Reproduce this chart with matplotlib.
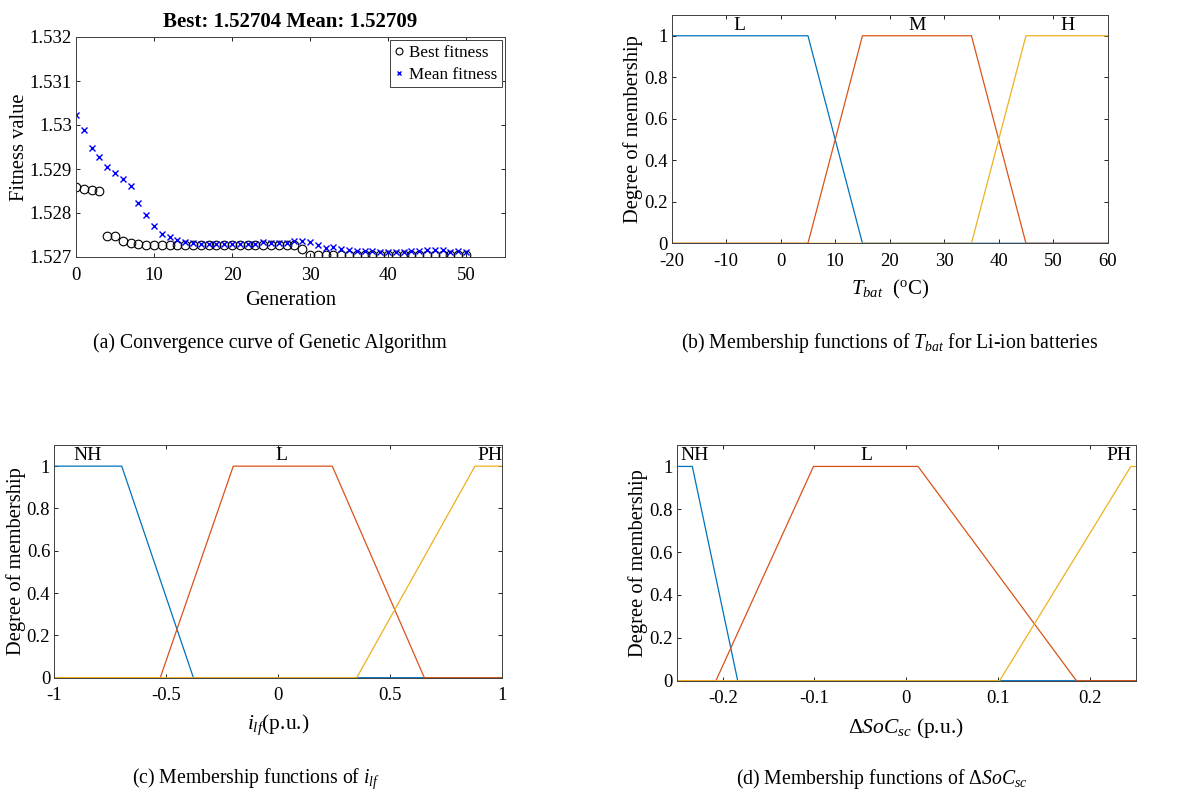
import matplotlib
matplotlib.use("Agg")
import matplotlib.pyplot as plt
import numpy as np

plt.rcParams['font.family'] = ['Liberation Serif', 'DejaVu Serif']
plt.rcParams['mathtext.fontset'] = 'custom'
plt.rcParams['mathtext.rm'] = 'Liberation Serif'
plt.rcParams['mathtext.it'] = 'Liberation Serif:italic'
plt.rcParams['mathtext.bf'] = 'Liberation Serif:bold'

# ---------------- Data ----------------
generation = list(range(0, 51))
best_fitness = [1.528583, 1.528545, 1.528515, 1.528508, 1.527485, 1.527485, 1.527371, 1.527311,
                1.527295, 1.527280, 1.527270, 1.527265, 1.527265, 1.527265, 1.527265, 1.527265,
                1.527265, 1.527265, 1.527265, 1.527265, 1.527265, 1.527265, 1.527265, 1.527265,
                1.527265, 1.527265, 1.527265, 1.527265, 1.527265, 1.527174, 1.527055, 1.527055,
                1.527055, 1.527055, 1.527055, 1.527055, 1.527055, 1.527055, 1.527055, 1.527055,
                1.527055, 1.527055, 1.527055, 1.527055, 1.527055, 1.527055, 1.527055, 1.527055,
                1.527055, 1.527055, 1.527045]
mean_fitness = [1.530235, 1.529879, 1.529477, 1.529280, 1.529038, 1.528902, 1.528780, 1.528621,
                1.528235, 1.527947, 1.527705, 1.527530, 1.527447, 1.527386, 1.527341, 1.527326,
                1.527300, 1.527295, 1.527295, 1.527295, 1.527295, 1.527295, 1.527300, 1.527300,
                1.527350, 1.527310, 1.527310, 1.527310, 1.527360, 1.527360, 1.527340, 1.527270,
                1.527210, 1.527230, 1.527180, 1.527160, 1.527140, 1.527140, 1.527140, 1.527110,
                1.527110, 1.527120, 1.527120, 1.527140, 1.527140, 1.527170, 1.527150, 1.527170,
                1.527110, 1.527125, 1.527110]

# Tbat membership functions (breakpoints)
tbat_L_x = [-20, 5, 15, 60];          tbat_L_y = [1, 1, 0, 0]
tbat_M_x = [-20, 5, 15, 35, 45, 60];  tbat_M_y = [0, 0, 1, 1, 0, 0]
tbat_H_x = [-20, 35, 45, 60];         tbat_H_y = [0, 0, 1, 1]
tbat_labels = ['L', 'M', 'H']
tbat_label_x = [-7.6, 25, 52.6]

# ilf membership functions
ilf_NH_x = [-1, -0.699, -0.379, 1];             ilf_NH_y = [1, 1, 0, 0]
ilf_L_x = [-1, -0.527, -0.201, 0.241, 0.652, 1]; ilf_L_y = [0, 0, 1, 1, 0, 0]
ilf_PH_x = [-1, 0.350, 0.878, 1];               ilf_PH_y = [0, 0, 1, 1]
ilf_labels = ['NH', 'L', 'PH']
ilf_label_x = [-0.85, 0.015, 0.945]

# dSoC_sc membership functions
soc_NH_x = [-0.25, -0.233, -0.1836, 0.25];                 soc_NH_y = [1, 1, 0, 0]
soc_L_x = [-0.25, -0.2073, -0.1011, 0.0127, 0.1851, 0.25]; soc_L_y = [0, 0, 1, 1, 0, 0]
soc_PH_x = [-0.25, 0.1015, 0.2444, 0.25];                  soc_PH_y = [0, 0, 1, 1]
soc_labels = ['NH', 'L', 'PH']
soc_label_x = [-0.230, -0.044, 0.2315]

C1, C2, C3 = '#0072BD', '#D95319', '#EDB120'
TICK_FS = 13.5
LABEL_FS = 14.8
CAP_FS = 14.2

W, H = 1189, 792
fig = plt.figure(figsize=(W / 100, H / 100), dpi=100)


def px_axes(left, top, right, bottom):
    return fig.add_axes([left / W, 1 - bottom / H, (right - left) / W, (bottom - top) / H])


def style(ax):
    ax.tick_params(direction='in', top=True, right=True, labelsize=TICK_FS, length=2.8, width=0.6)
    ax.tick_params(axis='x', pad=7)
    ax.tick_params(axis='y', pad=3)
    for s in ax.spines.values():
        s.set_linewidth(0.7)
        s.set_color('#404040')


# (a)
ax = px_axes(76, 37, 505, 257)
ax.plot(generation, best_fitness, 'o', mfc='none', mec='black', ms=6.2, mew=0.8, label='Best fitness')
ax.plot(generation, mean_fitness, 'x', color='blue', ms=4.2, mew=1.0, label='Mean fitness')
ax.set_xlim(0, 55)
ax.set_ylim(1.527, 1.532)
ax.set_xticks([0, 10, 20, 30, 40, 50])
ax.set_yticks([1.527, 1.528, 1.529, 1.53, 1.531, 1.532])
ax.set_yticklabels(['1.527', '1.528', '1.529', '1.53', '1.531', '1.532'])
style(ax)
ax.set_xlabel('Generation', fontsize=LABEL_FS, labelpad=5)
ax.set_ylabel('Fitness value', fontsize=LABEL_FS, labelpad=0.5)
ax.set_title('Best: 1.52704 Mean: 1.52709', fontsize=15, fontweight='bold', pad=7)
leg = ax.legend(loc='upper right', fontsize=12.3, handlelength=0.5, handletextpad=0.35,
                borderpad=0.25, labelspacing=0.35, borderaxespad=0.2, fancybox=False,
                edgecolor='#404040', framealpha=1, markerscale=0.8)
leg.get_frame().set_linewidth(0.7)
fig.text(270 / W, 1 - 343 / H, '(a) Convergence curve of Genetic Algorithm', ha='center', va='center', fontsize=CAP_FS)


def mf_panel(ax, xs, ys, labels, lx, xlim, xticks, xticklabels):
    for (x, y), c in zip(zip(xs, ys), [C1, C2, C3]):
        ax.plot(x, y, color=c, lw=0.9)
    for t, x in zip(labels, lx):
        ax.text(x, 1.05, t, ha='center', va='center', fontsize=14)
    ax.set_xlim(*xlim)
    ax.set_ylim(0, 1.1)
    ax.set_xticks(xticks)
    ax.set_xticklabels(xticklabels)
    ax.set_yticks([0, 0.2, 0.4, 0.6, 0.8, 1])
    ax.set_yticklabels(['0', '0.2', '0.4', '0.6', '0.8', '1'])
    style(ax)
    ax.set_ylabel('Degree of membership', fontsize=LABEL_FS, labelpad=0.5)


# (b)
ax = px_axes(671.7, 15, 1107.7, 243.3)
mf_panel(ax, [tbat_L_x, tbat_M_x, tbat_H_x], [tbat_L_y, tbat_M_y, tbat_H_y], tbat_labels, tbat_label_x,
         (-20, 60), [-20, -10, 0, 10, 20, 30, 40, 50, 60],
         ['-20', '-10', '0', '10', '20', '30', '40', '50', '60'])
ax.set_xlabel(r'$T_{bat}$  ($^{\mathrm{o}}$C)', fontsize=15, labelpad=6)
fig.text(890 / W, 1 - 343 / H, r'(b) Membership functions of $T_{bat}$ for Li-ion batteries',
         ha='center', va='center', fontsize=CAP_FS)

# (c)
ax = px_axes(54.3, 445, 502.3, 677.7)
mf_panel(ax, [ilf_NH_x, ilf_L_x, ilf_PH_x], [ilf_NH_y, ilf_L_y, ilf_PH_y], ilf_labels, ilf_label_x,
         (-1, 1), [-1, -0.5, 0, 0.5, 1], ['-1', '-0.5', '0', '0.5', '1'])
ax.set_xlabel(r'$i_{lf}$(p.u.)', fontsize=15.5, labelpad=6)
fig.text(256 / W, 1 - 779 / H, r'(c) Membership functions of $i_{lf}$',
         ha='center', va='center', fontsize=CAP_FS)

# (d)
ax = px_axes(676.7, 445, 1136, 680.7)
mf_panel(ax, [soc_NH_x, soc_L_x, soc_PH_x], [soc_NH_y, soc_L_y, soc_PH_y], soc_labels, soc_label_x,
         (-0.25, 0.25), [-0.2, -0.1, 0, 0.1, 0.2], ['-0.2', '-0.1', '0', '0.1', '0.2'])
ax.set_xlabel(r'$\Delta SoC_{sc}$ (p.u.)', fontsize=15.5, labelpad=6)
fig.text(882 / W, 1 - 779 / H, r'(d) Membership functions of $\Delta$$SoC_{sc}$',
         ha='center', va='center', fontsize=CAP_FS)

fig.savefig('out.png', dpi=100)
